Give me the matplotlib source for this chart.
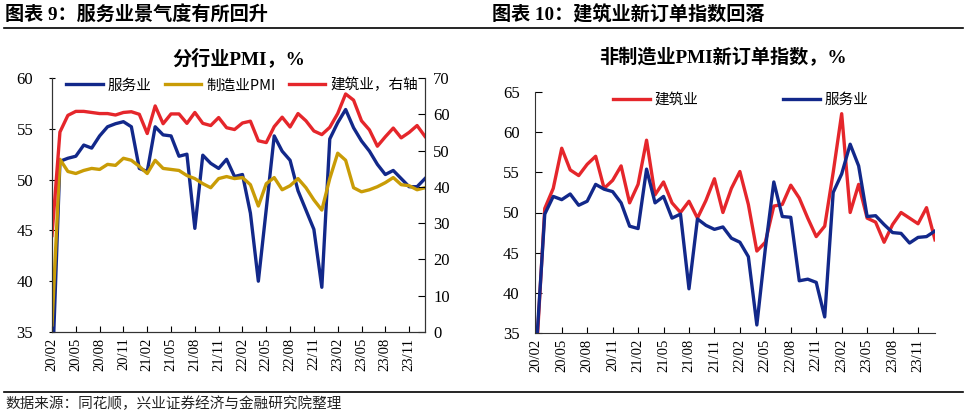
import numpy as np
import pandas as pd
import matplotlib
matplotlib.use("Agg")
import matplotlib.pyplot as plt

plt.rcParams['font.family'] = ['Liberation Serif', 'Noto Sans CJK SC', 'DejaVu Sans']

# months 2020/02 - 2024/01
months = list(pd.period_range('2020-02', '2024-01', freq='M').strftime('%y/%m'))

# chart 9: PMI by sector
services_pmi = [30.1, 51.8, 52.1, 52.3, 53.4, 53.1, 54.3, 55.2, 55.5, 55.7, 55.2,
                51.1, 50.8, 55.2, 54.4, 54.3, 52.3, 52.5, 45.2, 52.4, 51.6, 51.1, 52.0,
                50.3, 50.5, 46.7, 40.0, 47.1, 54.3, 52.8, 51.9, 48.9, 47.0, 45.1, 39.4,
                54.0, 55.6, 56.9, 55.1, 53.8, 52.8, 51.5, 50.5, 50.9, 50.1, 49.3, 49.3,
                50.1]
manuf_pmi = [35.7, 52.0, 50.8, 50.6, 50.9, 51.1, 51.0, 51.5, 51.4, 52.1, 51.9,
             51.3, 50.6, 51.9, 51.1, 51.0, 50.9, 50.4, 50.1, 49.6, 49.2, 50.1, 50.3,
             50.1, 50.2, 49.5, 47.4, 49.6, 50.2, 49.0, 49.4, 50.1, 49.2, 48.0, 47.0,
             50.1, 52.6, 51.9, 49.2, 48.8, 49.0, 49.3, 49.7, 50.2, 49.5, 49.4, 49.0,
             49.2]
constr_pmi = [26.6, 55.1, 59.7, 60.8, 60.8, 60.5, 60.2, 60.2, 59.8, 60.5, 60.7,
              60.0, 54.7, 62.3, 57.4, 60.1, 60.1, 57.5, 60.5, 57.5, 56.9, 59.1, 56.3,
              55.8, 57.6, 58.1, 52.7, 52.2, 56.6, 59.2, 56.5, 60.2, 58.2, 55.4, 54.4,
              56.4, 60.2, 65.6, 63.9, 58.2, 55.7, 51.2, 53.8, 56.2, 53.5, 55.0, 56.9,
              53.9]

# chart 10: new orders index
constr_orders = [32.0, 50.5, 53.0, 58.0, 55.3, 54.6, 56.0, 57.0, 53.0, 54.0, 55.8,
                 51.2, 53.5, 59.0, 52.2, 53.8, 51.2, 50.0, 51.4, 49.3, 51.5, 54.2, 50.0,
                 53.0, 55.1, 51.0, 45.2, 46.3, 50.8, 51.0, 53.4, 51.8, 49.3, 47.0, 48.3,
                 55.0, 62.3, 50.0, 53.5, 49.3, 48.8, 46.3, 48.5, 50.0, 49.3, 48.6, 50.6,
                 46.6]
services_orders = [33.0, 49.8, 52.0, 51.6, 52.3, 50.9, 51.4, 53.5, 52.9, 52.6, 51.2,
                   48.3, 48.0, 55.4, 51.2, 52.0, 49.3, 49.8, 40.5, 49.2, 48.4, 47.9, 48.2,
                   46.8, 46.3, 44.5, 36.0, 45.5, 53.8, 49.5, 49.4, 41.5, 41.7, 41.3, 37.0,
                   52.5, 54.8, 58.5, 55.8, 49.5, 49.6, 48.5, 47.5, 47.4, 46.2, 46.9, 47.0,
                   47.7]

BLUE = '#12288a'
GOLD = '#c99c06'
RED = '#e5262b'
cjk = ['Noto Sans CJK SC', 'DejaVu Sans']
serif_cjk = ['Liberation Serif', 'Noto Sans CJK SC']

fig = plt.figure(figsize=(9.67, 4.12), dpi=100)
x = np.arange(len(months))
tick_pos = x[::3]
tick_lab = months[::3]

# header texts and rules
fig.text(5 / 967, 1 - 15 / 412, '图表 9：服务业景气度有所回升', family=serif_cjk,
         fontsize=13.8, fontweight='bold', va='center', ha='left')
fig.text(492 / 967, 1 - 15 / 412, '图表 10：建筑业新订单指数回落', family=serif_cjk,
         fontsize=13.8, fontweight='bold', va='center', ha='left')
fig.add_artist(plt.Line2D([4 / 967, 963 / 967], [1 - 28 / 412, 1 - 28 / 412],
                          color='black', lw=1.2))
fig.add_artist(plt.Line2D([4 / 967, 963 / 967], [1 - 392 / 412, 1 - 392 / 412],
                          color='black', lw=1.2))
fig.text(5 / 967, 1 - 404 / 412, '数据来源：同花顺，兴业证券经济与金融研究院整理',
         family=cjk, fontsize=10.5, va='center', ha='left', color='#222222')

# ---- left chart ----
ax = fig.add_axes([52 / 967, 1 - 332 / 412, (425 - 52) / 967, (332 - 78) / 412])
ax2 = ax.twinx()
l1, = ax.plot(x, services_pmi, color=BLUE, lw=2.4, solid_joinstyle='round', label='服务业')
l2, = ax.plot(x, manuf_pmi, color=GOLD, lw=2.4, solid_joinstyle='round', label='制造业PMI')
l3, = ax2.plot(x, constr_pmi, color=RED, lw=2.4, solid_joinstyle='round', label='建筑业，右轴')
ax.set_xlim(0, 47)
ax.set_ylim(35, 60)
ax.set_yticks(range(35, 61, 5))
ax2.set_ylim(0, 70)
ax2.set_yticks(range(0, 71, 10))
ax.set_xticks(tick_pos)
ax.set_xticklabels(tick_lab, rotation=90, fontsize=10.5)
ax.tick_params(axis='x', direction='in', length=4, pad=4)
ax.tick_params(axis='y', direction='inout', length=5, labelsize=12, pad=11)
ax2.tick_params(axis='y', direction='in', length=5, labelsize=12, pad=6)
for a in (ax, ax2):
    a.spines['top'].set_visible(False)
    for s in ('left', 'right', 'bottom'):
        a.spines[s].set_color('#333333')
ax.set_title('分行业PMI，%', family=serif_cjk, fontsize=13.8, fontweight='bold', pad=10)
leg = ax2.legend(handles=[l1, l2, l3], loc='center', bbox_to_anchor=(0.51, 0.972), ncol=3,
                 frameon=False, handlelength=2.5, handletextpad=0.35, columnspacing=0.9,
                 prop={'family': cjk, 'size': 10.5})

# ---- right chart ----
bx = fig.add_axes([535 / 967, 1 - 333 / 412, (935 - 535) / 967, (333 - 92) / 412])
m1, = bx.plot(x, constr_orders, color=RED, lw=2.4, solid_joinstyle='round', label='建筑业')
m2, = bx.plot(x, services_orders, color=BLUE, lw=2.4, solid_joinstyle='round', label='服务业')
bx.set_xlim(-0.15, 47)
bx.set_ylim(35, 65)
bx.set_yticks(range(35, 66, 5))
bx.set_xticks(tick_pos)
bx.set_xticklabels(tick_lab, rotation=90, fontsize=10.5)
bx.tick_params(axis='x', direction='in', length=4, pad=4)
bx.tick_params(axis='y', direction='in', length=5, labelsize=12, pad=11)
bx.spines['top'].set_visible(False)
bx.spines['right'].set_visible(False)
for s in ('left', 'bottom'):
    bx.spines[s].set_color('#333333')
bx.set_title('非制造业PMI新订单指数，%', family=serif_cjk, fontsize=13.8,
             fontweight='bold', x=0.47, pad=21)
bx.legend(handles=[m1, m2], loc='center', bbox_to_anchor=(0.515, 0.967), ncol=2,
          frameon=False, handlelength=2.5, handletextpad=0.35, columnspacing=5.8,
          prop={'family': cjk, 'size': 10.5})

fig.savefig('out.png', dpi=100)
